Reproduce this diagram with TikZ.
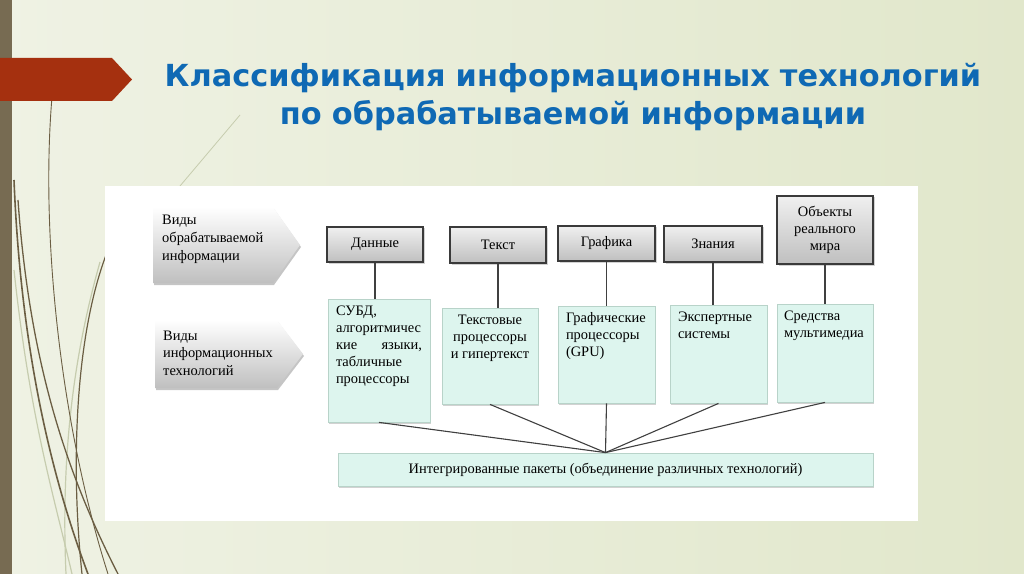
\documentclass[tikz,border=0pt]{standalone}
\usepackage{fontspec}
\setmainfont{Liberation Serif}
\newfontfamily\titlefont{DejaVu Sans}
\usetikzlibrary{shadows}

\definecolor{bgleft}{HTML}{EFF2E4}
\definecolor{bgright}{HTML}{E1E7CB}
\definecolor{barbrown}{HTML}{776B52}
\definecolor{bannerred}{HTML}{A5300F}
\definecolor{titleblue}{HTML}{0F69B4}
\definecolor{grassbrown}{HTML}{6B5E43}
\definecolor{grasspale}{HTML}{C6CCAE}
\definecolor{mint}{HTML}{DDF5EE}
\definecolor{mintedge}{HTML}{B8D3C9}
\definecolor{boxedge}{HTML}{3A3A3A}
\definecolor{linkgray}{HTML}{404040}

% текст в светлом блоке: высота, ширина, содержимое
\newcommand{\techtext}[3]{\parbox[c][#1][t]{#2}{\rule{0pt}{17pt}#3}}

\begin{document}
\begin{tikzpicture}[x=1bp, y=-1bp,
    every node/.style={font=\fontsize{14.5}{17}\selectfont},
    headline/.style={font=\titlefont\bfseries\fontsize{30.5}{38}\selectfont, text=titleblue,
        text width=950bp, align=center, anchor=base, inner sep=0},
    sidetext/.style={anchor=base west, text width=135bp, align=left, inner sep=0,
        font=\fontsize{14.5}{18}\selectfont},
    sidearrow/.style={top color=white, bottom color=gray!50,
        drop shadow={shadow xshift=1bp, shadow yshift=-2bp, opacity=.45}},
    catbox/.style={draw=boxedge, line width=1.3bp, top color=gray!12, bottom color=gray!50,
        minimum width=96bp, align=center, inner sep=2bp,
        drop shadow={shadow xshift=1.5bp, shadow yshift=-1.5bp, opacity=.35}},
    techbox/.style={draw=mintedge, line width=.8bp, fill=mint, inner xsep=8bp, inner ysep=0,
        drop shadow={shadow xshift=.5bp, shadow yshift=-2bp, opacity=.35}},
    link/.style={draw=linkgray, line width=1.1bp}]

    \useasboundingbox (0,0) rectangle (1024,574);

    % фон слайда
    \shade[left color=bgleft, right color=bgright] (0,0) rectangle (1024,574);
    \fill[barbrown] (0,0) rectangle (12,574);

    % стебли слева
    \draw[grasspale, line width=1.2bp] (14,270) .. controls (30,420) and (55,500) .. (72,574);
    \draw[grasspale, line width=1.2bp] (100,262) .. controls (78,340) and (60,440) .. (66,574);
    \draw[grasspale, line width=.8bp] (180,186) -- (240,115);
    \draw[grassbrown, line width=1.6bp] (14,180) .. controls (20,330) and (45,460) .. (88,574);
    \draw[grassbrown, line width=1.3bp] (18,200) .. controls (30,370) and (70,480) .. (118,574);
    \draw[grassbrown, line width=.9bp] (52,97) .. controls (40,240) and (62,430) .. (108,574);
    \draw[grassbrown, line width=1.2bp] (108,250) .. controls (76,330) and (70,460) .. (82,574);

    % красная стрелка-закладка
    \fill[bannerred] (0,58) -- (112,58) -- (132,79.5) -- (112,101) -- (0,101) -- cycle;

    % заголовок
    \node[headline] (title) at (573,87)
        {Классификация информационных технологий\\по обрабатываемой информации};

    % белая подложка схемы
    \fill[white] (105,186) rectangle (918,521);

    % серые стрелки слева
    \shade[sidearrow] (153,207) -- (273,207) -- (300,245) -- (273,283) -- (153,283) -- cycle;
    \shade[sidearrow] (155,320) -- (277,320) -- (303,354) -- (277,388) -- (155,388) -- cycle;
    \node[sidetext] (kinds) at (162,225) {Виды\\обрабатываемой\\информации};
    \node[sidetext] (techs) at (163,340) {Виды\\информационных\\технологий};

    % виды информации
    \node[catbox, minimum height=35bp] (dat) at (375,244.5) {Данные};
    \node[catbox, minimum height=36bp] (txt) at (498,245) {Текст};
    \node[catbox, minimum height=35bp, minimum width=97bp] (gfx) at (606.5,243.5) {Графика};
    \node[catbox, minimum height=36bp, minimum width=98bp] (know) at (713,244) {Знания};
    \node[catbox, minimum height=68bp] (obj) at (825,230) {Объекты\\реального\\мира};

    % информационные технологии
    \node[techbox] (subd) at (379,360.5)
        {\techtext{123bp}{86bp}{СУБД,\\алгоритмичес\\кие\hfill языки,\\табличные\\процессоры}};
    \node[techbox] (txtp) at (490,356)
        {\techtext{96bp}{80bp}{\centering Текстовые\\процессоры\\и гипертекст}};
    \node[techbox] (gpu) at (606.5,354.5)
        {\techtext{97bp}{81bp}{\raggedright Графические\\процессоры\\(GPU)}};
    \node[techbox] (expert) at (718.5,354)
        {\techtext{98bp}{81bp}{\raggedright Экспертные\\системы}};
    \node[techbox, inner xsep=7bp] (media) at (825,353)
        {\techtext{98bp}{82bp}{\raggedright Средства\\мультимедиа}};

    % интегрированные пакеты
    \node[techbox, minimum width=535bp, minimum height=33bp] (pak) at (605.5,469.5)
        {Интегрированные пакеты (объединение различных технологий)};

    % связи
    \foreach \a/\b in {dat/subd, txt/txtp, gfx/gpu, know/expert, obj/media}
        \draw[link] (\a.south) -- (\a.south |- \b.north);
    \foreach \n in {subd, txtp, gpu, expert, media}
        \draw[link] (\n.south) -- (pak.north);
\end{tikzpicture}
\end{document}
